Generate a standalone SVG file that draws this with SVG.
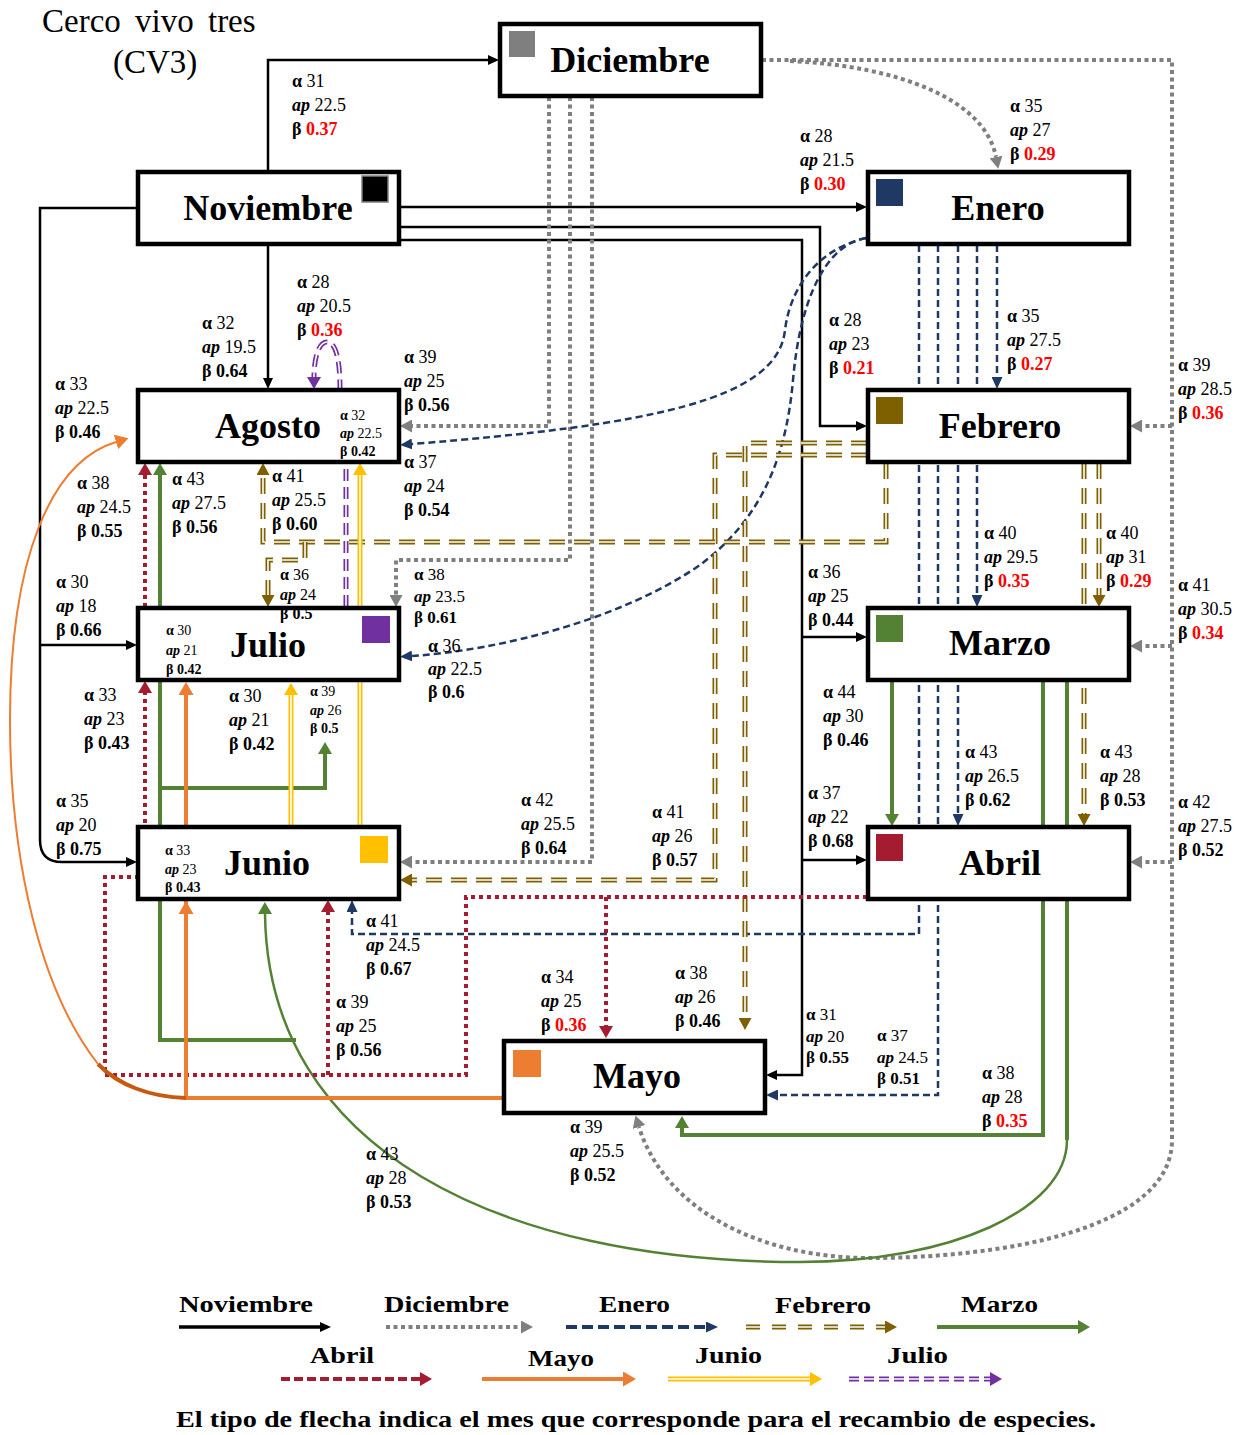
<svg xmlns="http://www.w3.org/2000/svg" width="1251" height="1435" viewBox="0 0 1251 1435">
<style>
.lb text{font-family:"Liberation Serif","Times New Roman",serif;font-size:18px;fill:#000}
.sm text{font-size:14px}
.mid text{font-size:17px}
.g{font-weight:bold}
.ap{font-weight:bold;font-style:italic}
.v{font-weight:bold}
.r{fill:#ff0000}
.box{fill:#fff;stroke:#000;stroke-width:4.5}
.nt{font-family:"Liberation Serif","Times New Roman",serif;font-weight:bold;font-size:36px;text-anchor:middle;fill:#000}
.ttl{font-family:"Liberation Serif","Times New Roman",serif;font-size:33px;fill:#000}
.lg{font-family:"Liberation Serif","Times New Roman",serif;font-weight:bold;font-size:23px;fill:#000}
.k{stroke:#000;stroke-width:2.5;fill:none}
.gy{stroke:#7f7f7f;stroke-width:4;stroke-dasharray:4 3.5;fill:none}
.nv{stroke:#1f3864;stroke-width:2.5;stroke-dasharray:7 4;fill:none}
.br{stroke:#7f6000;stroke-width:5;stroke-dasharray:16 9;fill:none}
.brw{stroke:#fff;stroke-width:1.6;stroke-dasharray:16 9;fill:none}
.gr{stroke:#548235;stroke-width:4;fill:none}
.rd{stroke:#a51c30;stroke-width:4;stroke-dasharray:4 4;fill:none}
.or{stroke:#ed7d31;stroke-width:4;fill:none}
.ye{stroke:#ffc000;stroke-width:5;fill:none}
.yew{stroke:#fff;stroke-width:1.6;fill:none}
.pu{stroke:#7030a0;stroke-width:5;stroke-dasharray:12 6;fill:none}
.puw{stroke:#fff;stroke-width:1.6;stroke-dasharray:12 6;fill:none}
</style>
<defs>
<marker id="mK" markerWidth="11" markerHeight="10" refX="0" refY="5" orient="auto" markerUnits="userSpaceOnUse"><path d="M0,0 L11,5 L0,10 z" fill="#000"/></marker>
<marker id="mG" markerWidth="12" markerHeight="13" refX="0" refY="6.5" orient="auto" markerUnits="userSpaceOnUse"><path d="M0,0 L12,6.5 L0,13 z" fill="#7f7f7f"/></marker>
<marker id="mN" markerWidth="12" markerHeight="11" refX="0" refY="5.5" orient="auto" markerUnits="userSpaceOnUse"><path d="M0,0 L12,5.5 L0,11 z" fill="#1f3864"/></marker>
<marker id="mB" markerWidth="12" markerHeight="13" refX="0" refY="6.5" orient="auto" markerUnits="userSpaceOnUse"><path d="M0,0 L12,6.5 L0,13 z" fill="#7f6000"/></marker>
<marker id="mM" markerWidth="12" markerHeight="14" refX="0" refY="7" orient="auto" markerUnits="userSpaceOnUse"><path d="M0,0 L12,7 L0,14 z" fill="#548235"/></marker>
<marker id="mR" markerWidth="12" markerHeight="14" refX="0" refY="7" orient="auto" markerUnits="userSpaceOnUse"><path d="M0,0 L12,7 L0,14 z" fill="#a51c30"/></marker>
<marker id="mO" markerWidth="13" markerHeight="15" refX="0" refY="7.5" orient="auto" markerUnits="userSpaceOnUse"><path d="M0,0 L13,7.5 L0,15 z" fill="#ed7d31"/></marker>
<marker id="mY" markerWidth="12" markerHeight="14" refX="0" refY="7" orient="auto" markerUnits="userSpaceOnUse"><path d="M0,0 L12,7 L0,14 z" fill="#ffc000"/></marker>
<marker id="mP" markerWidth="12" markerHeight="14" refX="0" refY="7" orient="auto" markerUnits="userSpaceOnUse"><path d="M0,0 L12,7 L0,14 z" fill="#7030a0"/></marker>
</defs>
<rect width="1251" height="1435" fill="#fff"/>

<g id="title">
<text class="ttl" x="42" y="32" style="word-spacing:6px">Cerco vivo tres</text>
<text class="ttl" x="113" y="73">(CV3)</text>
</g>

<g id="connectors">
<!-- Noviembre (black) -->
<path class="k" d="M268,171 V60 H488" marker-end="url(#mK)"/>
<path class="k" d="M268,245 V378" marker-end="url(#mK)"/>
<path class="k" d="M137,208 H40 V840 Q40,862 62,862 H126" marker-end="url(#mK)"/>
<path class="k" d="M40,645 H126" marker-end="url(#mK)"/>
<path class="k" d="M400,207 H856" marker-end="url(#mK)"/>
<path class="k" d="M400,227 H820 V426 H856" marker-end="url(#mK)"/>
<path class="k" d="M400,240 H802 V1075 H777" marker-end="url(#mK)"/>
<path class="k" d="M802,637 H856" marker-end="url(#mK)"/>
<path class="k" d="M802,860 H856" marker-end="url(#mK)"/>
<!-- Diciembre (gray dotted) -->
<path class="gy" d="M762,60 H1172 V1140 C1172,1230 1000,1258 870,1258 C760,1258 665,1210 639,1127" marker-end="url(#mG)"/>
<path class="gy" d="M1172,426 H1142" marker-end="url(#mG)"/>
<path class="gy" d="M1172,646 H1142" marker-end="url(#mG)"/>
<path class="gy" d="M1172,862 H1142" marker-end="url(#mG)"/>
<path class="gy" d="M790,61 C900,66 985,100 996,157" marker-end="url(#mG)"/>
<path class="gy" d="M549,97 V426 H412" marker-end="url(#mG)"/>
<path class="gy" d="M570,97 V560 H396 V595" marker-end="url(#mG)"/>
<path class="gy" d="M592,97 V862 H412" marker-end="url(#mG)"/>
<!-- Enero (navy dashed) -->
<path class="nv" d="M997,245 V377" marker-end="url(#mN)"/>
<path class="nv" d="M977,245 V595" marker-end="url(#mN)"/>
<path class="nv" d="M958,245 V814" marker-end="url(#mN)"/>
<path class="nv" d="M938,245 V1095 H778" marker-end="url(#mN)"/>
<path class="nv" d="M919,245 V934 H352 V912" marker-end="url(#mN)"/>
<path class="nv" d="M866,238 C815,250 790,290 785,330 C778,400 650,425 412,444" marker-end="url(#mN)"/>
<path class="nv" d="M866,238 C825,245 800,300 793,380 C786,460 760,520 700,565 C620,620 500,650 412,656" marker-end="url(#mN)"/>
<!-- Febrero (brown double dashed) -->
<path class="br" d="M867,443 H745 V1018" marker-end="url(#mB)"/>
<path class="brw" d="M867,443 H745 V1018"/>
<path class="br" d="M867,455 H715 V880 H412" marker-end="url(#mB)"/>
<path class="brw" d="M867,455 H715 V880 H412"/>
<path class="br" d="M886,463 V542 H263 V475" marker-end="url(#mB)"/>
<path class="brw" d="M886,463 V542 H263 V475"/>
<path class="br" d="M305,542 V560 H268 V595" marker-end="url(#mB)"/>
<path class="brw" d="M305,542 V560 H268 V595"/>
<path class="br" d="M1099,463 V595" marker-end="url(#mB)"/>
<path class="brw" d="M1099,463 V595"/>
<path class="br" d="M1084,463 V814" marker-end="url(#mB)"/>
<path class="brw" d="M1084,463 V814"/>
<!-- Marzo (green) -->
<path class="gr" d="M892,681 V814" marker-end="url(#mM)"/>
<path class="gr" d="M1043,681 V1135 H682 V1128" marker-end="url(#mM)"/>
<path class="gr" d="M1067,681 V1140"/>
<path class="gr" style="stroke-width:2.5" d="M1067,1140 C1067,1210 950,1262 800,1262 C500,1262 268,1150 265,914" marker-end="url(#mM)"/>
<path class="gr" d="M296,1040 H160 V475" marker-end="url(#mM)"/>
<path class="gr" d="M160,788 H325 V754" marker-end="url(#mM)"/>
<!-- Abril (red dotted) -->
<path class="rd" d="M867,897 H466 V1075 H105 V877 H145 V693" marker-end="url(#mR)"/>
<path class="rd" d="M145,607 V475" marker-end="url(#mR)"/>
<path class="rd" d="M606,897 V1026" marker-end="url(#mR)"/>
<path class="rd" d="M328,1075 V912" marker-end="url(#mR)"/>
<!-- Mayo (orange) -->
<path class="or" d="M503,1098 H186 V695" marker-end="url(#mO)"/>
<path class="or" d="M186,930 V914" marker-end="url(#mO)"/>
<path class="or" style="stroke:#c55a11" d="M186,1098 C150,1097 118,1085 98,1064"/>
<path class="or" style="stroke-width:2" d="M98,1064 C40,990 10,860 10,720 C10,560 50,462 116,442" marker-end="url(#mO)"/>
<!-- Junio (yellow double) -->
<path class="ye" d="M291,826 V695" marker-end="url(#mY)"/>
<path class="yew" d="M291,826 V695"/>
<path class="ye" d="M360,826 V475" marker-end="url(#mY)"/>
<path class="yew" d="M360,826 V475"/>
<!-- Julio (purple double dashed) -->
<path class="pu" d="M346,607 V420 L340,389 C340,360 336,342 327,342 C318,342 314,360 314,377" marker-end="url(#mP)"/>
<path class="puw" d="M346,607 V420 L340,389 C340,360 336,342 327,342 C318,342 314,360 314,377"/>
</g>

<g id="node-diciembre"><rect class="box" x="500" y="24" width="261" height="72"/><rect x="509" y="31" width="26" height="26" fill="#7f7f7f"/><text class="nt" x="630" y="72">Diciembre</text></g>
<g id="node-noviembre"><rect class="box" x="138" y="172" width="261" height="72"/><rect x="362" y="176" width="26" height="26" fill="#000" stroke="#7f7f7f" stroke-width="1.5"/><text class="nt" x="268" y="220">Noviembre</text></g>
<g id="node-enero"><rect class="box" x="868" y="172" width="261" height="72"/><rect x="876" y="179" width="27" height="27" fill="#1f3864"/><text class="nt" x="998" y="220">Enero</text></g>
<g id="node-agosto"><rect class="box" x="138" y="390" width="261" height="72"/><text class="nt" x="268" y="438">Agosto</text></g>
<g id="node-febrero"><rect class="box" x="868" y="390" width="261" height="72"/><rect x="876" y="397" width="27" height="27" fill="#7f6000"/><text class="nt" x="1000" y="438">Febrero</text></g>
<g id="node-julio"><rect class="box" x="138" y="608" width="261" height="72"/><rect x="362" y="616" width="28" height="27" fill="#7030a0"/><text class="nt" x="268" y="657">Julio</text></g>
<g id="node-marzo"><rect class="box" x="868" y="608" width="261" height="72"/><rect x="876" y="615" width="27" height="27" fill="#548235"/><text class="nt" x="1000" y="655">Marzo</text></g>
<g id="node-junio"><rect class="box" x="138" y="827" width="261" height="72"/><rect x="360" y="836" width="28" height="27" fill="#ffc000"/><text class="nt" x="267" y="875">Junio</text></g>
<g id="node-abril"><rect class="box" x="868" y="827" width="261" height="72"/><rect x="876" y="834" width="27" height="27" fill="#a51c30"/><text class="nt" x="1000" y="875">Abril</text></g>
<g id="node-mayo"><rect class="box" x="504" y="1041" width="261" height="72"/><rect x="513" y="1050" width="28" height="27" fill="#ed7d31"/><text class="nt" x="637" y="1088">Mayo</text></g>

<g id="labels">
<g class="lb" transform="translate(292,87)"><text><tspan class="g">α</tspan> 31</text><text y="24"><tspan class="ap">ap</tspan> 22.5</text><text y="48"><tspan class="g">β</tspan> <tspan class="v r">0.37</tspan></text></g>
<g class="lb" transform="translate(800,142)"><text><tspan class="g">α</tspan> 28</text><text y="24"><tspan class="ap">ap</tspan> 21.5</text><text y="48"><tspan class="g">β</tspan> <tspan class="v r">0.30</tspan></text></g>
<g class="lb" transform="translate(1010,112)"><text><tspan class="g">α</tspan> 35</text><text y="24"><tspan class="ap">ap</tspan> 27</text><text y="48"><tspan class="g">β</tspan> <tspan class="v r">0.29</tspan></text></g>
<g class="lb" transform="translate(202,329)"><text><tspan class="g">α</tspan> 32</text><text y="24"><tspan class="ap">ap</tspan> 19.5</text><text y="48"><tspan class="g">β</tspan> <tspan class="v">0.64</tspan></text></g>
<g class="lb" transform="translate(297,288)"><text><tspan class="g">α</tspan> 28</text><text y="24"><tspan class="ap">ap</tspan> 20.5</text><text y="48"><tspan class="g">β</tspan> <tspan class="v r">0.36</tspan></text></g>
<g class="lb" transform="translate(404,363)"><text><tspan class="g">α</tspan> 39</text><text y="24"><tspan class="ap">ap</tspan> 25</text><text y="48"><tspan class="g">β</tspan> <tspan class="v">0.56</tspan></text></g>
<g class="lb" transform="translate(55,390)"><text><tspan class="g">α</tspan> 33</text><text y="24"><tspan class="ap">ap</tspan> 22.5</text><text y="48"><tspan class="g">β</tspan> <tspan class="v">0.46</tspan></text></g>
<g class="lb" transform="translate(829,326)"><text><tspan class="g">α</tspan> 28</text><text y="24"><tspan class="ap">ap</tspan> 23</text><text y="48"><tspan class="g">β</tspan> <tspan class="v r">0.21</tspan></text></g>
<g class="lb" transform="translate(1007,322)"><text><tspan class="g">α</tspan> 35</text><text y="24"><tspan class="ap">ap</tspan> 27.5</text><text y="48"><tspan class="g">β</tspan> <tspan class="v r">0.27</tspan></text></g>
<g class="lb" transform="translate(1178,371)"><text><tspan class="g">α</tspan> 39</text><text y="24"><tspan class="ap">ap</tspan> 28.5</text><text y="48"><tspan class="g">β</tspan> <tspan class="v r">0.36</tspan></text></g>
<g class="lb sm" transform="translate(340,420)"><text><tspan class="g">α</tspan> 32</text><text y="18"><tspan class="ap">ap</tspan> 22.5</text><text y="36"><tspan class="g">β</tspan> <tspan class="v">0.42</tspan></text></g>
<g class="lb" transform="translate(404,468)"><text><tspan class="g">α</tspan> 37</text><text y="24"><tspan class="ap">ap</tspan> 24</text><text y="48"><tspan class="g">β</tspan> <tspan class="v">0.54</tspan></text></g>
<g class="lb" transform="translate(77,489)"><text><tspan class="g">α</tspan> 38</text><text y="24"><tspan class="ap">ap</tspan> 24.5</text><text y="48"><tspan class="g">β</tspan> <tspan class="v">0.55</tspan></text></g>
<g class="lb" transform="translate(172,485)"><text><tspan class="g">α</tspan> 43</text><text y="24"><tspan class="ap">ap</tspan> 27.5</text><text y="48"><tspan class="g">β</tspan> <tspan class="v">0.56</tspan></text></g>
<g class="lb" transform="translate(272,482)"><text><tspan class="g">α</tspan> 41</text><text y="24"><tspan class="ap">ap</tspan> 25.5</text><text y="48"><tspan class="g">β</tspan> <tspan class="v">0.60</tspan></text></g>
<g class="lb" style="font-size:16px" transform="translate(280,580)"><text style="font-size:16px"><tspan class="g">α</tspan> 36</text><text y="20" style="font-size:16px"><tspan class="ap">ap</tspan> 24</text><text y="39" style="font-size:16px"><tspan class="g">β</tspan> <tspan class="v">0.5</tspan></text></g>
<g class="lb mid" transform="translate(414,580)"><text><tspan class="g">α</tspan> 38</text><text y="21.5"><tspan class="ap">ap</tspan> 23.5</text><text y="43"><tspan class="g">β</tspan> <tspan class="v">0.61</tspan></text></g>
<g class="lb" transform="translate(984,539)"><text><tspan class="g">α</tspan> 40</text><text y="24"><tspan class="ap">ap</tspan> 29.5</text><text y="48"><tspan class="g">β</tspan> <tspan class="v r">0.35</tspan></text></g>
<g class="lb" transform="translate(1106,539)"><text><tspan class="g">α</tspan> 40</text><text y="24"><tspan class="ap">ap</tspan> 31</text><text y="48"><tspan class="g">β</tspan> <tspan class="v r">0.29</tspan></text></g>
<g class="lb" transform="translate(1178,591)"><text><tspan class="g">α</tspan> 41</text><text y="24"><tspan class="ap">ap</tspan> 30.5</text><text y="48"><tspan class="g">β</tspan> <tspan class="v r">0.34</tspan></text></g>
<g class="lb" transform="translate(56,588)"><text><tspan class="g">α</tspan> 30</text><text y="24"><tspan class="ap">ap</tspan> 18</text><text y="48"><tspan class="g">β</tspan> <tspan class="v">0.66</tspan></text></g>
<g class="lb" transform="translate(808,578)"><text><tspan class="g">α</tspan> 36</text><text y="24"><tspan class="ap">ap</tspan> 25</text><text y="48"><tspan class="g">β</tspan> <tspan class="v">0.44</tspan></text></g>
<g class="lb sm" transform="translate(166,635)"><text><tspan class="g">α</tspan> 30</text><text y="19.5"><tspan class="ap">ap</tspan> 21</text><text y="39"><tspan class="g">β</tspan> <tspan class="v">0.42</tspan></text></g>
<g class="lb" transform="translate(428,652)"><text><tspan class="g">α</tspan> 36</text><text y="23"><tspan class="ap">ap</tspan> 22.5</text><text y="46"><tspan class="g">β</tspan> <tspan class="v">0.6</tspan></text></g>
<g class="lb" transform="translate(84,701)"><text><tspan class="g">α</tspan> 33</text><text y="24"><tspan class="ap">ap</tspan> 23</text><text y="48"><tspan class="g">β</tspan> <tspan class="v">0.43</tspan></text></g>
<g class="lb" transform="translate(229,702)"><text><tspan class="g">α</tspan> 30</text><text y="24"><tspan class="ap">ap</tspan> 21</text><text y="48"><tspan class="g">β</tspan> <tspan class="v">0.42</tspan></text></g>
<g class="lb sm" transform="translate(310,696)"><text><tspan class="g">α</tspan> 39</text><text y="18.5"><tspan class="ap">ap</tspan> 26</text><text y="37"><tspan class="g">β</tspan> <tspan class="v">0.5</tspan></text></g>
<g class="lb" transform="translate(823,698)"><text><tspan class="g">α</tspan> 44</text><text y="24"><tspan class="ap">ap</tspan> 30</text><text y="48"><tspan class="g">β</tspan> <tspan class="v">0.46</tspan></text></g>
<g class="lb" transform="translate(965,758)"><text><tspan class="g">α</tspan> 43</text><text y="24"><tspan class="ap">ap</tspan> 26.5</text><text y="48"><tspan class="g">β</tspan> <tspan class="v">0.62</tspan></text></g>
<g class="lb" transform="translate(1100,758)"><text><tspan class="g">α</tspan> 43</text><text y="24"><tspan class="ap">ap</tspan> 28</text><text y="48"><tspan class="g">β</tspan> <tspan class="v">0.53</tspan></text></g>
<g class="lb" transform="translate(56,807)"><text><tspan class="g">α</tspan> 35</text><text y="24"><tspan class="ap">ap</tspan> 20</text><text y="48"><tspan class="g">β</tspan> <tspan class="v">0.75</tspan></text></g>
<g class="lb" transform="translate(521,806)"><text><tspan class="g">α</tspan> 42</text><text y="24"><tspan class="ap">ap</tspan> 25.5</text><text y="48"><tspan class="g">β</tspan> <tspan class="v">0.64</tspan></text></g>
<g class="lb" transform="translate(652,818)"><text><tspan class="g">α</tspan> 41</text><text y="24"><tspan class="ap">ap</tspan> 26</text><text y="48"><tspan class="g">β</tspan> <tspan class="v">0.57</tspan></text></g>
<g class="lb" transform="translate(808,799)"><text><tspan class="g">α</tspan> 37</text><text y="24"><tspan class="ap">ap</tspan> 22</text><text y="48"><tspan class="g">β</tspan> <tspan class="v">0.68</tspan></text></g>
<g class="lb" transform="translate(1178,808)"><text><tspan class="g">α</tspan> 42</text><text y="24"><tspan class="ap">ap</tspan> 27.5</text><text y="48"><tspan class="g">β</tspan> <tspan class="v">0.52</tspan></text></g>
<g class="lb sm" transform="translate(165,855)"><text><tspan class="g">α</tspan> 33</text><text y="18.5"><tspan class="ap">ap</tspan> 23</text><text y="37"><tspan class="g">β</tspan> <tspan class="v">0.43</tspan></text></g>
<g class="lb" transform="translate(366,927)"><text><tspan class="g">α</tspan> 41</text><text y="24"><tspan class="ap">ap</tspan> 24.5</text><text y="48"><tspan class="g">β</tspan> <tspan class="v">0.67</tspan></text></g>
<g class="lb" transform="translate(541,983)"><text><tspan class="g">α</tspan> 34</text><text y="24"><tspan class="ap">ap</tspan> 25</text><text y="48"><tspan class="g">β</tspan> <tspan class="v r">0.36</tspan></text></g>
<g class="lb" transform="translate(675,979)"><text><tspan class="g">α</tspan> 38</text><text y="24"><tspan class="ap">ap</tspan> 26</text><text y="48"><tspan class="g">β</tspan> <tspan class="v">0.46</tspan></text></g>
<g class="lb" transform="translate(336,1008)"><text><tspan class="g">α</tspan> 39</text><text y="24"><tspan class="ap">ap</tspan> 25</text><text y="48"><tspan class="g">β</tspan> <tspan class="v">0.56</tspan></text></g>
<g class="lb mid" transform="translate(806,1020)"><text><tspan class="g">α</tspan> 31</text><text y="21.5"><tspan class="ap">ap</tspan> 20</text><text y="43"><tspan class="g">β</tspan> <tspan class="v">0.55</tspan></text></g>
<g class="lb mid" transform="translate(877,1041)"><text><tspan class="g">α</tspan> 37</text><text y="21.5"><tspan class="ap">ap</tspan> 24.5</text><text y="43"><tspan class="g">β</tspan> <tspan class="v">0.51</tspan></text></g>
<g class="lb" transform="translate(982,1079)"><text><tspan class="g">α</tspan> 38</text><text y="24"><tspan class="ap">ap</tspan> 28</text><text y="48"><tspan class="g">β</tspan> <tspan class="v r">0.35</tspan></text></g>
<g class="lb" transform="translate(570,1133)"><text><tspan class="g">α</tspan> 39</text><text y="24"><tspan class="ap">ap</tspan> 25.5</text><text y="48"><tspan class="g">β</tspan> <tspan class="v">0.52</tspan></text></g>
<g class="lb" transform="translate(366,1160)"><text><tspan class="g">α</tspan> 43</text><text y="24"><tspan class="ap">ap</tspan> 28</text><text y="48"><tspan class="g">β</tspan> <tspan class="v">0.53</tspan></text></g>
</g>

<g id="legend">
<text class="lg" x="179" y="1312" textLength="134" lengthAdjust="spacingAndGlyphs">Noviembre</text>
<text class="lg" x="384" y="1312" textLength="125" lengthAdjust="spacingAndGlyphs">Diciembre</text>
<text class="lg" x="599" y="1312" textLength="71" lengthAdjust="spacingAndGlyphs">Enero</text>
<text class="lg" x="775" y="1313" textLength="96" lengthAdjust="spacingAndGlyphs">Febrero</text>
<text class="lg" x="961" y="1312" textLength="77" lengthAdjust="spacingAndGlyphs">Marzo</text>
<text class="lg" x="310" y="1363" textLength="64" lengthAdjust="spacingAndGlyphs">Abril</text>
<text class="lg" x="528" y="1366" textLength="66" lengthAdjust="spacingAndGlyphs">Mayo</text>
<text class="lg" x="695" y="1363" textLength="67" lengthAdjust="spacingAndGlyphs">Junio</text>
<text class="lg" x="887" y="1363" textLength="61" lengthAdjust="spacingAndGlyphs">Julio</text>
<path class="k" style="stroke-width:3.5" d="M179,1327 H320" marker-end="url(#mK)"/>
<path class="gy" d="M386,1327 H521" marker-end="url(#mG)"/>
<path class="nv" style="stroke-width:4;stroke-dasharray:11 5" d="M566,1327 H706" marker-end="url(#mN)"/>
<path class="br" style="stroke-dasharray:14 12" d="M746,1327 H885" marker-end="url(#mB)"/>
<path class="brw" style="stroke-dasharray:14 12" d="M746,1327 H885"/>
<path class="gr" d="M937,1327 H1078" marker-end="url(#mM)"/>
<path class="rd" style="stroke-dasharray:9 4" d="M281,1379 H420" marker-end="url(#mR)"/>
<path class="or" d="M482,1379 H623" marker-end="url(#mO)"/>
<path class="ye" d="M668,1379 H810" marker-end="url(#mY)"/>
<path class="yew" d="M668,1379 H810"/>
<path class="pu" style="stroke-dasharray:10 5" d="M849,1379 H990" marker-end="url(#mP)"/>
<path class="puw" style="stroke-dasharray:10 5" d="M849,1379 H990"/>
<text class="lg" x="176" y="1427" textLength="920" lengthAdjust="spacingAndGlyphs">El tipo de flecha indica el mes que corresponde para el recambio de especies.</text>
</g>
</svg>
